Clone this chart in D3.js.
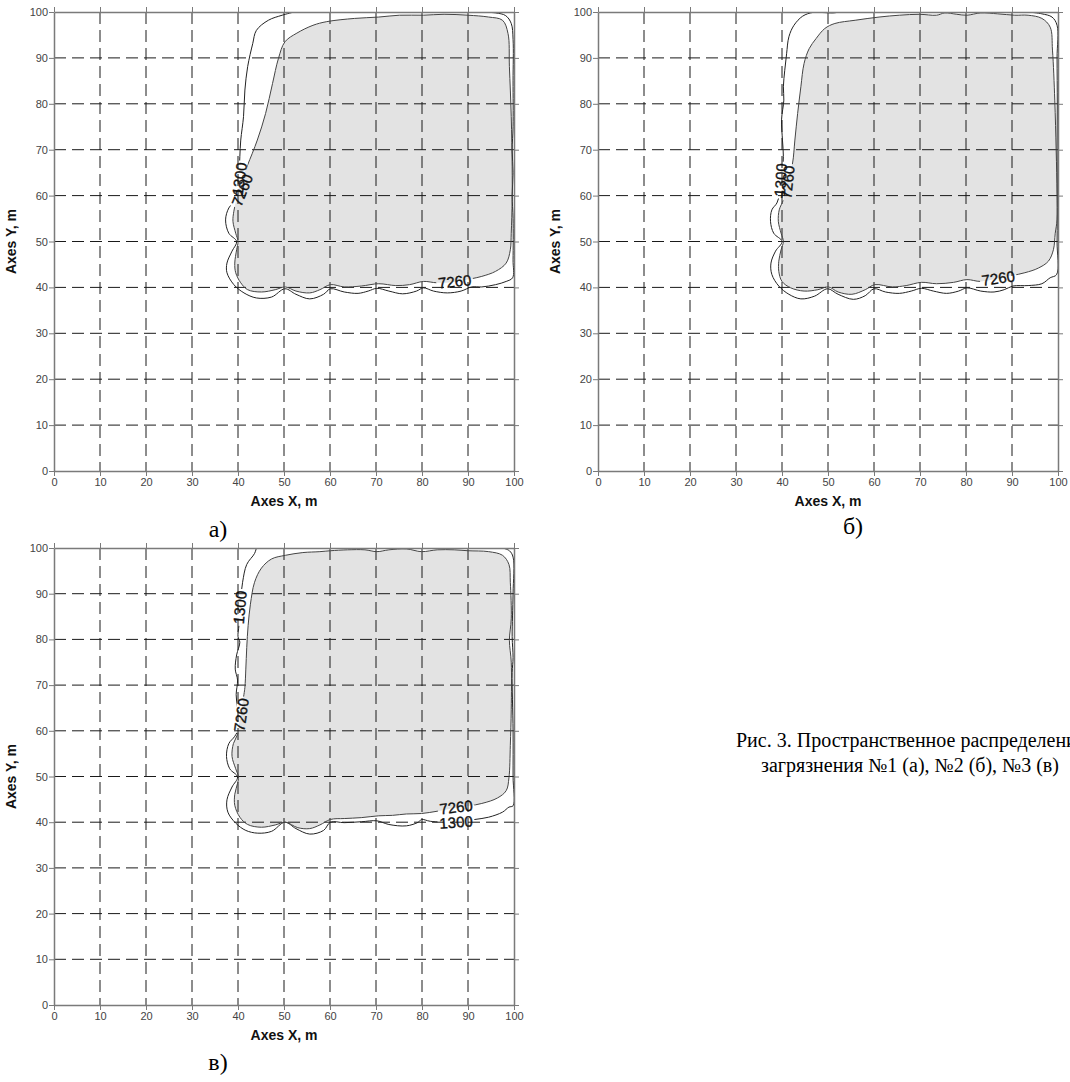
<!DOCTYPE html>
<html>
<head>
<meta charset="utf-8">
<script src="https://cdn.jsdelivr.net/npm/d3@7"></script>
<style>
  body { margin: 0; background: #fff; }
  svg { display: block; }
</style>
</head>
<body>
<svg id="chart" width="1070" height="1082"></svg>
<script>
// Contour levels of the concentration field
const levels = [1300, 7260];
const ticks = [0, 10, 20, 30, 40, 50, 60, 70, 80, 90, 100];

// Isolines, [x, y] in metres
const contourA1300 = [[52.2,100],[49.6,99.3],[46.6,98.2],[44.0,96.0],[43.2,93.1],[42.1,88.1],[41.5,83.0],[41.2,77.2],[40.6,72.1],[40.4,68.5],[40.2,64.0],[39.8,60.5],[39.5,59.1],[38.0,57.3],[37.3,54.7],[38.0,51.8],[39.7,50.0],[38.7,47.9],[37.6,45.3],[37.6,43.2],[39.1,40.6],[41.3,38.8],[44.0,37.7],[47.3,37.9],[50.2,39.7],[52.6,38.5],[55.6,37.5],[58.6,38.5],[60.1,39.7],[63.1,39.0],[66.1,38.7],[68.3,39.2],[70.2,39.8],[72.8,39.2],[75.8,38.6],[78.8,39.2],[80.3,39.9],[82.5,39.2],[85.5,38.8],[88.5,39.2],[90.8,40.1],[93.0,40.1],[96.0,40.6],[98.3,41.3],[99.7,42.1],[99.8,46],[99.8,55],[99.6,60],[99.8,65],[99.6,70],[99.8,75],[99.8,85],[99.8,94],[99.4,97.5],[98.2,99.2],[96.0,99.8],[93.0,99.95]];
const contourA7260 = [[39.1,56.6],[39.6,59.0],[40.3,62.0],[41.2,64.5],[42.1,66.7],[44.2,72.1],[46.0,77.9],[47.5,84.4],[48.8,89.9],[50.2,93.5],[52.8,95.4],[56.3,97.1],[59.3,97.9],[65.3,98.6],[70.6,98.9],[75.1,99.3],[80.3,99.3],[84.8,99.5],[90.0,99.3],[94.5,98.9],[97.5,98.2],[98.7,95.3],[99.0,88.1],[99.4,77.2],[99.6,66.3],[99.6,59.1],[99.4,51.8],[99.2,48.2],[98.3,45.3],[96.0,43.5],[93.0,42.4],[90.8,41.9],[87.0,41.2],[83.3,41.0],[80.3,41.3],[77.3,40.6],[74.3,40.4],[70.6,40.8],[66.8,40.3],[63.1,40.1],[60.1,40.6],[57.8,39.5],[55.6,38.8],[52.6,39.2],[50.3,40.1],[48.1,39.5],[45.1,39.0],[42.1,39.5],[40.6,41.0],[39.5,43.2],[39.3,45.3],[39.7,48.2],[40.0,50.0],[39.5,51.8],[38.9,54.4]];

const contourB1300 = [[52.5,100],[51.1,99.8],[48.5,99.9],[46.7,99.9],[44.5,99.1],[42.6,97.1],[41.5,94.6],[41.0,90.9],[40.6,87.3],[40.3,83.7],[40.4,80.8],[39.9,76.5],[40.1,72.1],[40.3,68.5],[40.0,64.0],[39.5,60.5],[38.9,58.4],[37.8,56.9],[37.5,54.4],[38.2,51.8],[40.0,50.0],[38.6,47.9],[37.6,45.3],[37.8,42.8],[39.3,40.3],[41.5,38.5],[44.1,37.5],[47.1,38.1],[49.9,39.7],[52.2,38.5],[55.5,37.4],[58.1,38.2],[60.0,39.7],[62.5,39.0],[65.5,38.7],[68.1,39.2],[70.3,39.8],[72.9,39.2],[75.8,38.7],[78.4,39.2],[80.2,39.9],[83.2,39.2],[86.1,39.0],[88.3,39.5],[90.2,40.3],[93.5,40.4],[96.5,40.8],[98.3,42.1],[99.7,42.8],[99.8,50],[99.85,60],[99.8,70],[99.85,80],[99.8,90],[99.8,97.1],[98.7,98.9],[96.5,99.6],[94.0,99.95]];
const contourB7260 = [[40.3,59.1],[40.8,62.0],[41.6,64.5],[42.3,67.1],[42.8,72.1],[43.4,77.9],[44.1,83.7],[44.8,88.8],[45.9,92.0],[47.4,94.2],[49.3,96.4],[51.5,97.5],[55.9,98.2],[61.1,98.9],[65.5,99.3],[69.9,99.5],[73.6,99.3],[75.4,99.8],[78.0,99.5],[80.2,99.3],[83.2,99.8],[86.9,99.6],[90.6,99.3],[93.5,99.3],[96.5,98.6],[98.3,96.7],[98.8,91.7],[99.3,80.8],[99.6,69.9],[99.8,60.5],[99.8,54.7],[99.4,51.8],[99.0,48.2],[97.9,45.7],[95.7,44.2],[92.8,43.2],[87.0,42.0],[83.2,41.3],[80.2,41.7],[77.3,41.1],[73.6,40.8],[70.3,41.1],[67.0,40.4],[64.0,40.1],[60.2,40.6],[58.1,39.5],[55.2,38.5],[52.2,39.0],[50.1,40.1],[47.8,39.5],[44.8,39.2],[41.9,39.9],[40.0,41.3],[39.3,43.5],[39.3,45.7],[39.8,48.2],[40.3,50.0],[39.8,51.8],[39.2,54.4],[39.4,56.9]];

const contourC1300 = [[44.0,100],[43.6,98.8],[41.9,96.4],[41.0,92.5],[40.6,89.0],[40.4,86.0],[40.2,83.0],[40.0,80.6],[40.4,79.4],[39.7,76.6],[39.4,73.5],[39.9,71.1],[39.6,67.9],[39.9,64.7],[40.2,60.8],[39.3,58.8],[38.0,57.2],[37.5,54.4],[38.2,51.7],[39.9,49.9],[38.7,47.7],[37.6,44.9],[37.8,42.2],[39.5,39.8],[41.7,38.2],[44.3,37.6],[47.3,38.0],[50.2,40.0],[52.6,38.6],[55.6,37.4],[58.6,38.2],[60.1,40.0],[63.1,39.9],[66.8,40.1],[70.2,40.3],[72.8,39.5],[76.6,39.2],[79.2,40.0],[79.9,40.6],[81.8,40.2],[87.4,40.0],[91.5,40.6],[94.5,41.1],[97.5,42.2],[98.9,43.3],[99.8,43.6],[99.8,50],[99.8,60],[99.6,72.7],[99.8,76],[99.6,80.6],[99.8,90],[99.8,98.0],[99.0,99.4],[97.5,100]];
const contourC7260 = [[39.9,59.2],[40.3,62.0],[40.9,65.5],[41.3,68.0],[41.5,69.5],[41.7,73.5],[41.9,78.2],[42.2,83.0],[42.7,87.7],[43.6,92.5],[45.1,95.6],[47.3,97.6],[50.3,98.4],[54.1,99.0],[57.8,99.2],[60.1,99.4],[63.8,99.6],[67.6,99.6],[70.2,99.2],[72.8,99.6],[76.6,99.8],[79.9,99.2],[83.3,99.6],[87.0,99.6],[90.0,99.4],[94.5,99.2],[97.5,98.4],[98.9,96.4],[99.2,92.5],[99.4,84.5],[99.0,79.8],[99.4,75.0],[99.4,64.7],[99.2,56.8],[98.9,49.7],[98.3,46.9],[96.4,45.3],[93.0,44.1],[87.2,43.1],[83.3,42.4],[79.9,41.9],[76.6,41.8],[73.6,41.5],[70.6,41.4],[66.8,41.0],[63.1,40.8],[60.1,40.6],[57.8,39.4],[55.6,38.6],[53.0,38.8],[50.3,40.0],[48.1,39.4],[45.1,38.9],[42.1,39.5],[40.4,41.1],[39.3,43.7],[39.3,46.1],[39.9,48.5],[40.1,49.9],[39.5,51.7],[38.7,54.4],[39.0,57.2]];

// Isoline labels: level, position [x, y] and text angle
const labelsA = [
  { level: 7260, x: 40.9, y: 61.2, angle: -68 },
  { level: 1300, x: 40.3, y: 63.6, angle: -82 },
  { level: 7260, x: 87.1, y: 41.3, angle: -6 }
];
const labelsB = [
  { level: 1300, x: 39.7, y: 63.4, angle: -86 },
  { level: 7260, x: 41.2, y: 62.9, angle: -84 },
  { level: 7260, x: 87.0, y: 42.0, angle: -8 }
];
const labelsC = [
  { level: 1300, x: 40.4, y: 87.0, angle: -85 },
  { level: 7260, x: 40.7, y: 63.5, angle: -82 },
  { level: 7260, x: 87.4, y: 43.3, angle: -7 },
  { level: 1300, x: 87.4, y: 40.0, angle: -4 }
];

const captionLines = [
  "Рис. 3. Пространственное распределение",
  "загрязнения №1 (а), №2 (б), №3 (в)"
];

// Panel layout on the page
const panels = [
  { id: "a", left: 54, right: 514, top: 12, bottom: 471, letter: "а)", letterX: 218, letterY: 537,
    iso: { 1300: contourA1300, 7260: contourA7260 }, labels: labelsA },
  { id: "b", left: 598, right: 1058, top: 12, bottom: 471, letter: "б)", letterX: 853, letterY: 534,
    iso: { 1300: contourB1300, 7260: contourB7260 }, labels: labelsB },
  { id: "c", left: 54, right: 514, top: 548, bottom: 1005, letter: "в)", letterX: 218, letterY: 1070,
    iso: { 1300: contourC1300, 7260: contourC7260 }, labels: labelsC }
];

const svg = d3.select("#chart");
const defs = svg.append("defs");
const sans = "'Liberation Sans', Arial, sans-serif";
const serif = "'Liberation Serif', 'Times New Roman', serif";
const labelFont = 15;

panels.forEach(p => {
  const x = d3.scaleLinear().domain([0, 100]).range([p.left, p.right]);
  const y = d3.scaleLinear().domain([0, 100]).range([p.bottom, p.top]);
  const g = svg.append("g").attr("class", "panel-" + p.id);

  const line = d3.line().x(d => x(d[0])).y(d => y(d[1])).curve(d3.curveCatmullRom.alpha(0.5));
  const ring = d3.line().x(d => x(d[0])).y(d => y(d[1])).curve(d3.curveCatmullRomClosed.alpha(0.5));

  // clip to the plotting area
  defs.append("clipPath").attr("id", "clip-" + p.id)
    .append("rect").attr("x", x(0)).attr("y", y(100))
    .attr("width", x(100) - x(0)).attr("height", y(0) - y(100));

  // mask that breaks the isolines under their labels
  const mask = defs.append("mask").attr("id", "mask-" + p.id).attr("maskUnits", "userSpaceOnUse")
    .attr("x", 0).attr("y", 0).attr("width", 1070).attr("height", 1082);
  mask.append("rect").attr("width", 1070).attr("height", 1082).attr("fill", "#fff");
  mask.selectAll("rect.hole").data(p.labels).join("rect").attr("class", "hole")
    .attr("x", d => -String(d.level).length * labelFont * 0.29 - 1)
    .attr("y", -labelFont * 0.4)
    .attr("width", d => String(d.level).length * labelFont * 0.58 + 2)
    .attr("height", labelFont * 0.8)
    .attr("transform", d => `translate(${x(d.x)},${y(d.y)}) rotate(${d.angle})`)
    .attr("fill", "#000");

  const plot = g.append("g").attr("clip-path", `url(#clip-${p.id})`);

  // area above the upper level
  plot.append("path").attr("d", ring(p.iso[levels[1]])).attr("fill", "#e3e3e3");

  // dashed grid
  const inner = ticks.slice(1, -1);
  plot.selectAll("line.vg").data(inner).join("line").attr("class", "vg")
    .attr("x1", d => x(d)).attr("x2", d => x(d))
    .attr("y1", y(100)).attr("y2", y(0))
    .attr("stroke", "#1a1a1a").attr("stroke-width", 1).attr("stroke-dasharray", "12,6");
  plot.selectAll("line.hg").data(inner).join("line").attr("class", "hg")
    .attr("y1", d => y(d)).attr("y2", d => y(d))
    .attr("x1", x(0)).attr("x2", x(100))
    .attr("stroke", "#1a1a1a").attr("stroke-width", 1).attr("stroke-dasharray", "12,6");

  // isolines
  const iso = plot.append("g").attr("mask", `url(#mask-${p.id})`).attr("fill", "none");
  iso.append("path").attr("d", line(p.iso[levels[0]])).attr("stroke", "#222").attr("stroke-width", 1);
  iso.append("path").attr("d", ring(p.iso[levels[1]])).attr("stroke", "#444").attr("stroke-width", 1);

  // isoline labels
  g.selectAll("text.lvl").data(p.labels).join("text").attr("class", "lvl")
    .attr("transform", d => `translate(${x(d.x)},${y(d.y)}) rotate(${d.angle})`)
    .attr("text-anchor", "middle").attr("dy", "0.36em")
    .attr("font-family", sans).attr("font-size", labelFont).attr("fill", "#111")
    .attr("stroke", "#111").attr("stroke-width", 0.35)
    .text(d => d.level);

  // axes on all four sides
  const styleAxis = a => {
    a.selectAll("path.domain").attr("stroke", "#7a7a7a").attr("stroke-width", 1.5);
    a.selectAll(".tick line").attr("stroke", "#7a7a7a");
    a.selectAll(".tick text").attr("fill", "#444").attr("font-family", sans).attr("font-size", 11);
  };
  g.append("g").attr("transform", `translate(0,${y(0)})`)
    .call(d3.axisBottom(x).tickValues(ticks).tickSize(5).tickSizeOuter(0).tickPadding(2)).call(styleAxis);
  g.append("g").attr("transform", `translate(${x(0)},0)`)
    .call(d3.axisLeft(y).tickValues(ticks).tickSize(5).tickSizeOuter(0).tickPadding(1)).call(styleAxis);
  g.append("g").attr("transform", `translate(0,${y(100)})`)
    .call(d3.axisTop(x).tickValues(ticks).tickSize(5).tickSizeOuter(0).tickFormat(() => "")).call(styleAxis);
  g.append("g").attr("transform", `translate(${x(100)},0)`)
    .call(d3.axisRight(y).tickValues(ticks).tickSize(5).tickSizeOuter(0).tickFormat(() => "")).call(styleAxis);

  // axis titles
  g.append("text").attr("x", (x(0) + x(100)) / 2).attr("y", y(0) + 35)
    .attr("text-anchor", "middle").attr("font-family", sans).attr("font-weight", "bold")
    .attr("font-size", 14).attr("fill", "#111").text("Axes X, m");
  g.append("text").attr("transform", `translate(${x(0) - 38},${(y(0) + y(100)) / 2}) rotate(-90)`)
    .attr("text-anchor", "middle").attr("font-family", sans).attr("font-weight", "bold")
    .attr("font-size", 14).attr("fill", "#111").text("Axes Y, m");

  // panel letter
  g.append("text").attr("x", p.letterX).attr("y", p.letterY).attr("text-anchor", "middle")
    .attr("font-family", serif).attr("font-size", 24).attr("fill", "#000").text(p.letter);
});

// figure caption
svg.append("g").selectAll("text").data(captionLines).join("text")
  .attr("x", (d, i) => i === 0 ? 736 : 761)
  .attr("y", (d, i) => 747 + i * 25)
  .attr("font-family", serif).attr("font-size", 20).attr("fill", "#000")
  .text(d => d);
</script>
</body>
</html>
